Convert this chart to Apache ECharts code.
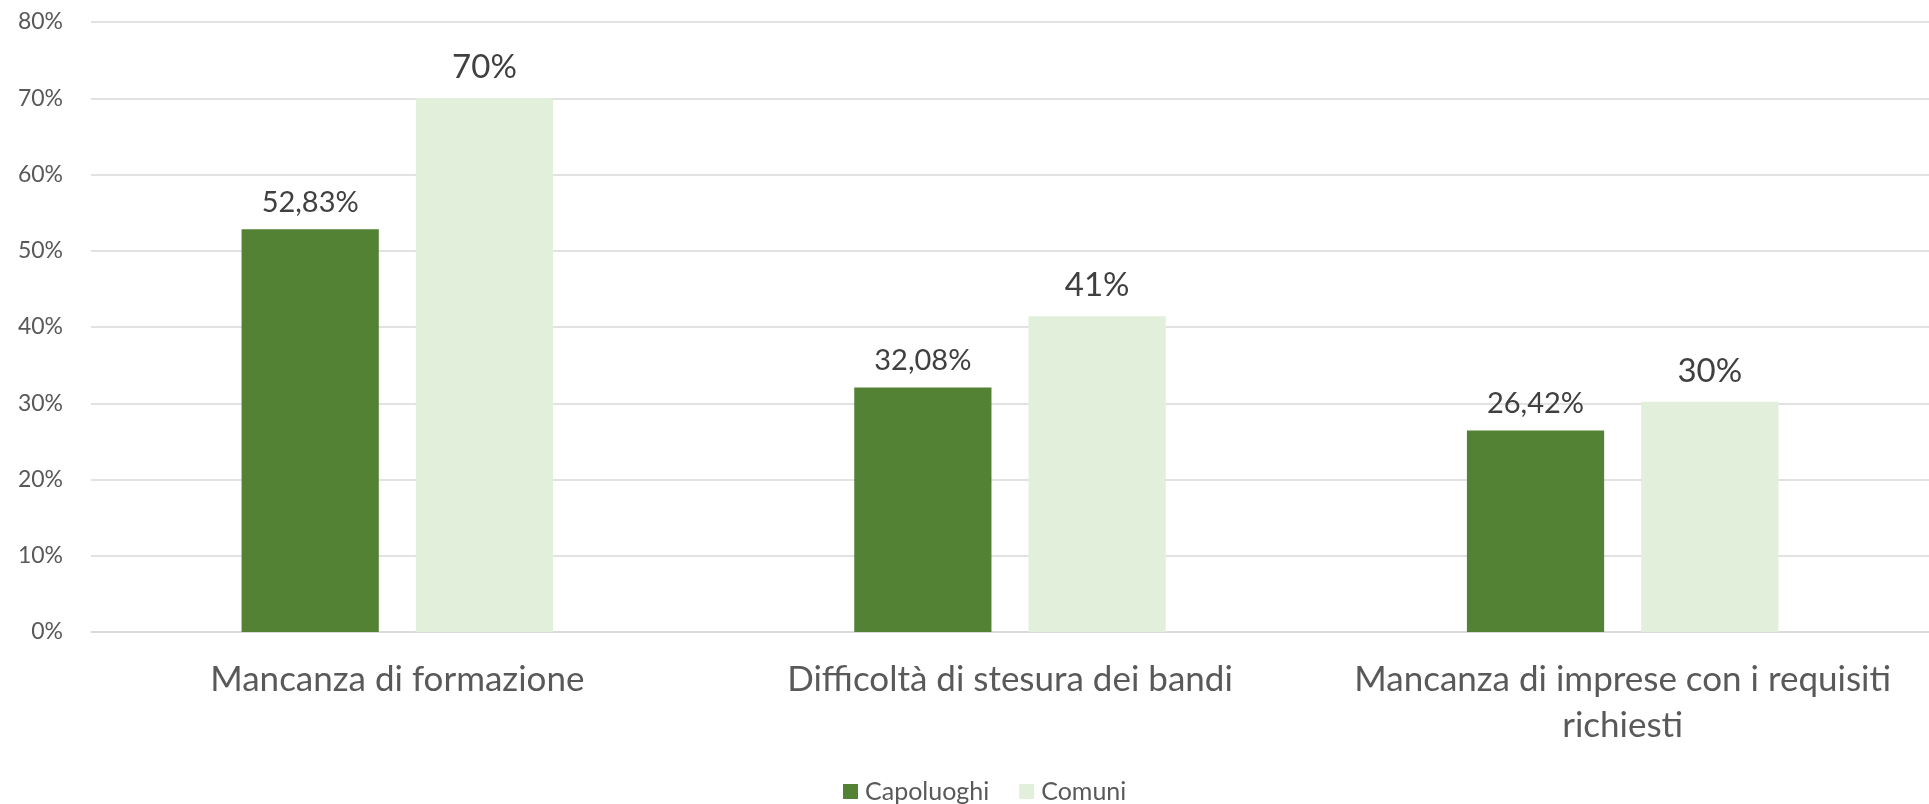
<!DOCTYPE html>
<html>
<head>
<meta charset="utf-8">
<script src="https://cdn.jsdelivr.net/npm/echarts@6/dist/echarts.min.js"></script>
<style>
html,body{margin:0;padding:0;background:#fff;}
#chart{width:1929px;height:804px;}
</style>
</head>
<body>
<div id="chart"></div>
<script>
const categories = ["Mancanza di formazione", "Difficoltà di stesura dei bandi", "Mancanza di imprese con i requisiti\nrichiesti"];
const capoluoghiValues = [52.83, 32.08, 26.42];
const comuniValues = [70, 41.4, 30.2];
const capoluoghiLabels = ["52,83%", "32,08%", "26,42%"];
const comuniLabels = ["70%", "41%", "30%"];
const yTicks = [0, 10, 20, 30, 40, 50, 60, 70, 80];

const FONT = 'Lato';
const chart = echarts.init(document.getElementById('chart'), null, {renderer: 'canvas'});
chart.setOption({
  animation: false,
  backgroundColor: '#ffffff',
  textStyle: {fontFamily: FONT},
  grid: {left: 91, right: 0, top: 22, bottom: 172, containLabel: false},
  legend: {
    data: ['Capoluoghi', 'Comuni'],
    left: 838, top: 774,
    itemWidth: 15, itemHeight: 15, itemGap: 30,
    icon: 'rect',
    textStyle: {fontFamily: FONT, fontSize: 25, color: '#595959', padding: [0, 0, 0, 2]}
  },
  xAxis: {
    type: 'category',
    data: categories,
    axisLine: {show: true, lineStyle: {color: '#D9D9D9', width: 1.5}},
    axisTick: {show: false},
    axisLabel: {fontFamily: FONT, fontSize: 35, color: '#595959', margin: 25, lineHeight: 46, interval: 0}
  },
  yAxis: {
    type: 'value',
    min: yTicks[0], max: yTicks[yTicks.length - 1], interval: 10,
    axisLine: {show: false},
    axisTick: {show: false},
    splitLine: {lineStyle: {color: '#D9D9D9', width: 1.5}},
    axisLabel: {fontFamily: FONT, fontSize: 23, color: '#595959', margin: 28, formatter: '{value}%'}
  },
  series: [
    {
      name: 'Capoluoghi', type: 'bar',
      data: capoluoghiValues,
      barWidth: '22.4%', barGap: '27%',
      itemStyle: {color: '#548235'},
      label: {show: true, position: 'top', distance: 12, fontFamily: FONT, fontSize: 29, color: '#404040',
        formatter: p => capoluoghiLabels[p.dataIndex]}
    },
    {
      name: 'Comuni', type: 'bar',
      data: comuniValues,
      barWidth: '22.4%',
      itemStyle: {color: '#E2EFDA'},
      label: {show: true, position: 'top', distance: 14, fontFamily: FONT, fontSize: 33, color: '#404040',
        formatter: p => comuniLabels[p.dataIndex]}
    }
  ]
});
</script>
</body>
</html>
